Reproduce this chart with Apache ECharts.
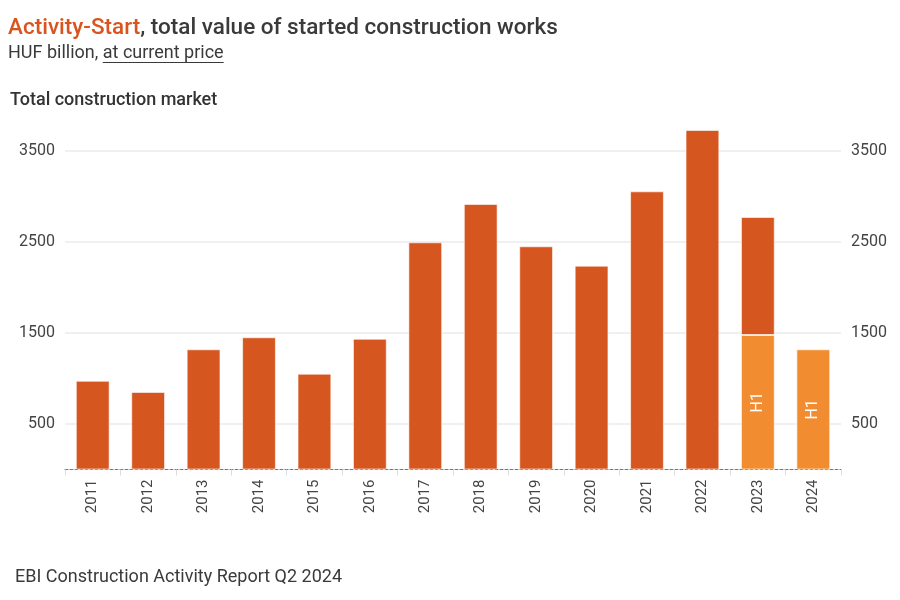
<!DOCTYPE html>
<html>
<head>
<meta charset="utf-8">
<script src="https://cdn.jsdelivr.net/npm/echarts@6/dist/echarts.min.js"></script>
<style>
html,body{margin:0;padding:0;background:#fff;}
#main{width:900px;height:600px;}
</style>
</head>
<body>
<div id="main"></div>
<script>
const years = ['2011','2012','2013','2014','2015','2016','2017','2018','2019','2020','2021','2022','2023','2024'];
const fullYear = [975, 852, 1321, 1453, 1053, 1437, 2497, 2918, 2453, 2240, 3057, 3731, 2775, null];
const firstHalf = [null, null, null, null, null, null, null, null, null, null, null, null, 1478, 1321];
const yTicks = [500, 1500, 2500, 3500];

const DARK = '#D6561F';
const LIGHT = '#F28C30';
const FONT = 'Roboto';

const restOfYear = fullYear.map((v, i) => v == null ? null : v - (firstHalf[i] || 0));

function measure(text, font) {
  const c = document.createElement('canvas').getContext('2d');
  c.font = font;
  return c.measureText(text).width;
}
const subX = 8, subY = 53;
const subFont = '18px ' + FONT;
const w1 = measure('HUF billion, ', subFont);
const w2 = measure('at current price', subFont);

const chart = echarts.init(document.getElementById('main'));
const yLabel = v => yTicks.indexOf(v) >= 0 ? String(v) : '';
const yAxisBase = {
  type: 'value', min: 0, max: 4000, interval: 500,
  axisLine: {show: false}, axisTick: {show: false},
  axisLabel: {formatter: yLabel, color: '#444', fontSize: 16, fontFamily: FONT, margin: 10}
};
chart.setOption({
  animation: false,
  textStyle: {fontFamily: FONT},
  grid: {left: 65, right: 59, top: 105.5, bottom: 130.5},
  xAxis: {
    type: 'category', data: years,
    axisLine: {lineStyle: {color: '#777', type: [3, 2], width: 1}},
    axisTick: {show: true, length: 6, lineStyle: {color: '#ddd'}},
    axisLabel: {rotate: 90, color: '#444', fontSize: 15, fontFamily: FONT, margin: 10}
  },
  yAxis: [
    Object.assign({}, yAxisBase, {position: 'left',
      splitLine: {show: true, lineStyle: {color: ['rgba(0,0,0,0)', '#f0f0f0'], width: 2}}}),
    Object.assign({}, yAxisBase, {position: 'right', splitLine: {show: false}})
  ],
  series: [
    {
      type: 'bar', stack: 'total', data: firstHalf, barWidth: '61%',
      itemStyle: {color: LIGHT, borderColor: 'rgba(255,255,255,0.6)', borderWidth: 1},
      label: {show: true, position: 'inside', rotate: 90, formatter: 'H1',
              color: '#fff', fontSize: 16, fontFamily: FONT}
    },
    {
      type: 'bar', stack: 'total', data: restOfYear, barWidth: '61%',
      itemStyle: {color: DARK, borderColor: 'rgba(255,255,255,0.6)', borderWidth: 1}
    }
  ],
  graphic: [
    {type: 'text', x: 8, y: 28.5, style: {
      rich: {a: {fill: '#D9541E', fontSize: 22.5, fontWeight: 500, fontFamily: FONT},
             b: {fill: '#3a3a3a', fontSize: 22.5, fontWeight: 500, fontFamily: FONT}},
      text: '{a|Activity-Start}{b|, total value of started construction works}',
      verticalAlign: 'middle'}},
    {type: 'text', x: subX, y: subY, style: {text: 'HUF billion, at current price',
      fill: '#3a3a3a', font: subFont, verticalAlign: 'middle'}},
    {type: 'line', shape: {x1: subX + w1, y1: subY + 9.5, x2: subX + w1 + w2, y2: subY + 9.5},
      style: {stroke: '#3a3a3a', lineWidth: 1}},
    {type: 'text', x: 10, y: 100.5, style: {text: 'Total construction market',
      fill: '#333', font: '500 18px ' + FONT, verticalAlign: 'middle'}},
    {type: 'text', x: 15, y: 577, style: {text: 'EBI Construction Activity Report Q2 2024',
      fill: '#3a3a3a', font: '18px ' + FONT, verticalAlign: 'middle'}}
  ]
});
</script>
</body>
</html>
